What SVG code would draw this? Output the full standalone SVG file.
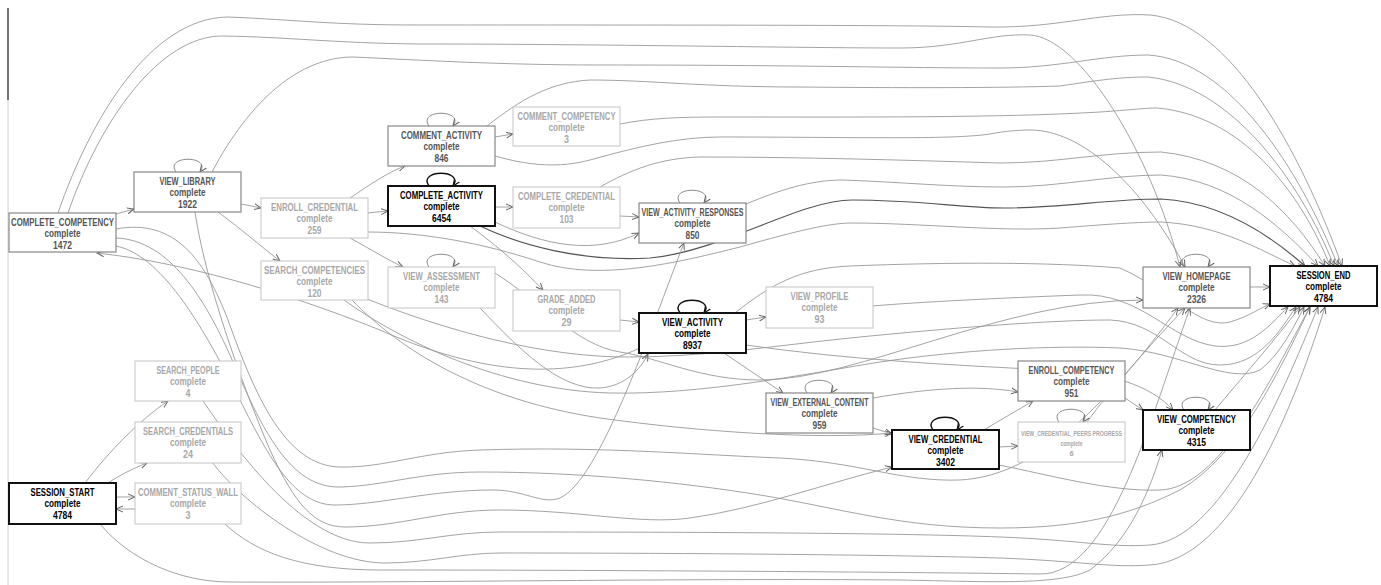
<svg xmlns="http://www.w3.org/2000/svg" width="1381" height="585" viewBox="0 0 1381 585">
<style>
text{font-family:"Liberation Sans",Arial,sans-serif;font-weight:bold;text-anchor:middle}
.t{font-size:11.5px}
.c{font-size:11px}
.strong rect{fill:#fff;stroke:#111;stroke-width:2}
.strong text{fill:#000}
.mid rect{fill:#fff;stroke:#888;stroke-width:1.2}
.mid text{fill:#555}
.light rect{fill:#fff;stroke:#c4c4c4;stroke-width:1}
.light text{fill:#a8a8a8}
.ea{fill:none;stroke:#999;stroke-width:0.9;marker-end:url(#ah)}
.ed{fill:none;stroke:#555;stroke-width:1.2;marker-end:url(#ah)}
.lp{fill:none;stroke:#888;stroke-width:1;marker-end:url(#ah)}
.lpd{fill:none;stroke:#111;stroke-width:1.4;marker-end:url(#ahd)}
</style>
<defs>
<marker id="ah" viewBox="0 0 8 8" refX="7" refY="4" markerWidth="8" markerHeight="8" markerUnits="userSpaceOnUse" orient="auto"><path d="M0,1 L7,4 L0,7" fill="none" stroke="#666" stroke-width="1"/></marker>
<marker id="ahd" viewBox="0 0 8 8" refX="7" refY="4" markerWidth="8" markerHeight="8" markerUnits="userSpaceOnUse" orient="auto"><path d="M0,1 L7,4 L0,7" fill="none" stroke="#111" stroke-width="1.2"/></marker>
</defs>
<rect x="0" y="0" width="1381" height="585" fill="#fff"/>
<line x1="8" y1="100" x2="8" y2="585" stroke="#d0d0d0" stroke-width="1"/>
<line x1="8" y1="8" x2="8" y2="100" stroke="#444" stroke-width="1.5"/>
<g id="connectors">
<path class="ea" d="M 58 213 C 90 120, 150 18, 228 17 C 300 20, 330 25, 420 25 C 700 25, 900 25, 990 27 C 1060 28, 1100 12, 1150 15 C 1230 22, 1300 150, 1342 266"/>
<path class="ea" d="M 68 213 C 100 120, 160 36, 222 36 C 290 37, 330 43, 420 44 C 600 44, 800 48, 900 48 C 960 48, 990 33, 1030 35 C 1080 38, 1150 150, 1180 267"/>
<path class="ea" d="M 212 172 C 250 100, 300 57, 353 57 C 420 60, 500 65, 600 65 C 800 65, 900 68, 1000 68 C 1060 68, 1100 55, 1148 55 C 1230 60, 1300 170, 1338 266"/>
<path class="ea" d="M 487 126 C 520 100, 550 82, 590 80 C 650 80, 700 87, 800 87 C 900 88, 1000 88, 1060 86 C 1100 80, 1120 77, 1148 77 C 1230 85, 1300 180, 1334 266"/>
<path class="ea" d="M 620 124 C 650 118, 680 117, 720 117 C 850 117, 1000 118, 1100 112 C 1130 110, 1145 108, 1157 108 C 1240 115, 1300 190, 1330 266"/>
<path class="ea" d="M 495 156 C 530 166, 560 168, 590 160 C 640 146, 680 137, 720 137 C 850 137, 950 140, 990 134 C 1005 131, 1020 130, 1030 130 C 1090 130, 1150 200, 1185 267"/>
<path class="ea" d="M 600 187 C 630 170, 660 158, 700 157 C 800 157, 900 160, 1000 163 C 1060 163, 1100 152, 1161 152 C 1240 160, 1290 210, 1325 266"/>
<path class="ea" d="M 746 204 C 780 190, 810 180, 843 180 C 900 182, 950 187, 1004 187 C 1060 187, 1110 175, 1161 175 C 1230 180, 1280 225, 1318 266"/>
<path class="ed" d="M 480 226 C 520 245, 580 262, 650 258 C 720 252, 800 200, 852 200 C 920 200, 960 208, 1004 208 C 1060 208, 1110 199, 1161 199 C 1220 202, 1270 235, 1305 266"/>
<path class="ea" d="M 367 232 C 420 232, 480 242, 540 262 C 600 282, 680 262, 740 247 C 800 230, 830 223, 852 223 C 920 223, 1000 232, 1060 228 C 1110 224, 1140 222, 1161 222 C 1220 225, 1260 250, 1295 266"/>
<path class="ea" d="M 735 313 C 770 285, 800 268, 850 266 C 950 262, 1050 262, 1120 268 C 1170 290, 1200 330, 1230 322 C 1250 316, 1260 308, 1270 304"/>
<path class="ea" d="M 872 306 C 920 302, 1000 298, 1080 295 C 1140 292, 1170 340, 1215 346 C 1250 350, 1270 325, 1288 307"/>
<path class="ea" d="M 367 299 C 420 320, 520 355, 620 357 C 700 358, 780 345, 850 338 C 950 328, 1050 320, 1110 320 C 1160 322, 1180 365, 1220 365 C 1260 365, 1280 330, 1296 307"/>
<path class="ea" d="M 344 300 C 400 340, 500 390, 610 393 C 700 395, 800 375, 880 362 C 960 350, 1050 345, 1120 348 C 1180 352, 1230 385, 1260 370 C 1280 355, 1295 325, 1304 307"/>
<path class="ea" d="M 352 300 C 400 350, 480 400, 600 418 C 700 432, 820 440, 892 433"/>
<path class="ea" d="M 480 308 C 520 350, 560 390, 600 388 C 625 386, 640 370, 648 354"/>
<path class="ea" d="M 490 270 C 540 300, 575 345, 620 352 C 660 358, 700 380, 760 380 C 860 380, 1000 300, 1143 300"/>
<path class="ea" d="M 746 345 C 850 360, 950 365, 1050 370 C 1110 372, 1150 385, 1173 410"/>
<path class="ea" d="M 640 348 C 560 385, 470 370, 380 330 C 280 290, 180 262, 97 253"/>
<path class="ea" d="M 999 465 C 1050 475, 1110 492, 1160 490 C 1220 488, 1270 380, 1310 307"/>
<path class="ea" d="M 116 229 C 175 218, 205 260, 228 320 C 255 395, 285 466, 340 467 C 385 468, 420 452, 480 450 C 600 446, 700 455, 780 458 C 860 462, 900 482, 960 480 C 1040 476, 1110 400, 1178 308"/>
<path class="ea" d="M 116 238 C 170 240, 205 300, 230 355 C 262 430, 290 488, 340 487 C 385 486, 420 472, 480 472 C 580 472, 680 482, 760 495 C 840 508, 900 528, 1000 528 C 1080 528, 1130 515, 1180 490 C 1240 455, 1280 370, 1310 307"/>
<path class="ea" d="M 116 246 C 160 255, 200 320, 240 400 C 270 460, 295 505, 335 505 C 380 505, 430 490, 493 490 C 525 490, 542 505, 560 498 C 600 480, 650 330, 684 243"/>
<path class="ea" d="M 195 212 C 205 280, 240 380, 270 450 C 295 505, 315 527, 345 527 C 400 527, 440 510, 500 510 C 580 510, 640 525, 690 518 C 760 508, 820 485, 892 467"/>
<path class="ea" d="M 203 401 C 230 440, 300 543, 370 543 C 420 543, 450 532, 500 532 C 700 532, 900 533, 1000 537 C 1080 540, 1110 548, 1150 545 C 1220 540, 1280 400, 1318 307"/>
<path class="ea" d="M 212 462 C 240 500, 320 563, 385 563 C 430 563, 460 553, 500 553 C 700 553, 900 555, 1000 558 C 1080 561, 1110 568, 1150 565 C 1230 560, 1290 420, 1325 307"/>
<path class="ea" d="M 100 524 C 130 560, 180 582, 230 582 C 400 583, 700 578, 900 580 C 1000 582, 1060 585, 1090 570 C 1130 540, 1150 490, 1162 450"/>
<path class="ea" d="M 225 524 C 255 552, 300 570, 380 570 C 600 570, 900 572, 1040 574 C 1110 575, 1150 420, 1190 308"/>
<path class="ea" d="M 116 214 L 134 209"/>
<path class="ea" d="M 241 204 L 261 208"/>
<path class="ea" d="M 218 212 C 240 228, 258 244, 280 261"/>
<path class="ea" d="M 350 198 C 368 186, 388 172, 405 166"/>
<path class="ea" d="M 367 213 L 388 211"/>
<path class="ea" d="M 350 238 C 372 250, 388 260, 403 267"/>
<path class="ea" d="M 495 137 L 513 134"/>
<path class="ea" d="M 495 207 L 513 207"/>
<path class="ea" d="M 620 216 L 639 217"/>
<path class="ea" d="M 495 222 C 545 246, 595 255, 639 233"/>
<path class="ea" d="M 470 226 C 500 248, 522 268, 543 290"/>
<path class="ea" d="M 620 320 L 639 322"/>
<path class="ea" d="M 746 320 L 766 317"/>
<path class="ea" d="M 724 353 L 783 393"/>
<path class="ea" d="M 873 428 L 892 434"/>
<path class="ea" d="M 984 430 C 1000 420, 1018 410, 1033 401"/>
<path class="ea" d="M 999 447 L 1018 446"/>
<path class="ea" d="M 873 398 C 930 388, 980 385, 1018 392"/>
<path class="ea" d="M 1125 398 L 1143 410"/>
<path class="ea" d="M 1250 287 L 1270 287"/>
<path class="ea" d="M 85 483 C 110 450, 140 420, 168 401"/>
<path class="ea" d="M 108 483 C 120 475, 132 469, 147 463"/>
<path class="ea" d="M 116 497 L 135 497"/>
<path class="ea" d="M 135 509 L 116 509"/>
<path class="ea" d="M 1087 422 C 1110 390, 1150 345, 1185 308"/>
<path class="ea" d="M 1215 410 C 1240 380, 1275 340, 1300 307"/>
<path class="lp" d="M 176 172 C 164 155, 212 155, 200 172"/>
<path class="lp" d="M 429 126 C 417 109, 465 109, 453 126"/>
<path class="lpd" d="M 429 186 C 417 169, 465 169, 453 186"/>
<path class="lp" d="M 429 267 C 417 250, 465 250, 453 267"/>
<path class="lp" d="M 680 203 C 668 186, 716 186, 704 203"/>
<path class="lpd" d="M 680 313 C 668 296, 716 296, 704 313"/>
<path class="lp" d="M 807 393 C 795 376, 843 376, 831 393"/>
<path class="lpd" d="M 933 430 C 921 413, 969 413, 957 430"/>
<path class="lp" d="M 1059 422 C 1047 405, 1095 405, 1083 422"/>
<path class="lp" d="M 1184 267 C 1172 250, 1220 250, 1208 267"/>
<path class="lp" d="M 1184 410 C 1172 393, 1220 393, 1208 410"/>
</g>
<g id="COMPLETE_COMPETENCY" class="mid"><rect x="9" y="213" width="107" height="39"/><text class="t" x="62.5" y="225.5" textLength="103" lengthAdjust="spacingAndGlyphs">COMPLETE_COMPETENCY</text><text class="c" x="62.5" y="237" textLength="36" lengthAdjust="spacingAndGlyphs">complete</text><text class="t" x="62.5" y="249" textLength="19" lengthAdjust="spacingAndGlyphs">1472</text></g>
<g id="VIEW_LIBRARY" class="mid"><rect x="134" y="172" width="107" height="40"/><text class="t" x="187.5" y="184.5" textLength="56" lengthAdjust="spacingAndGlyphs">VIEW_LIBRARY</text><text class="c" x="187.5" y="196" textLength="36" lengthAdjust="spacingAndGlyphs">complete</text><text class="t" x="187.5" y="208" textLength="19" lengthAdjust="spacingAndGlyphs">1922</text></g>
<g id="ENROLL_CREDENTIAL" class="light"><rect x="261" y="198" width="107" height="40"/><text class="t" x="314.5" y="210.5" textLength="87" lengthAdjust="spacingAndGlyphs">ENROLL_CREDENTIAL</text><text class="c" x="314.5" y="222" textLength="36" lengthAdjust="spacingAndGlyphs">complete</text><text class="t" x="314.5" y="234" textLength="14" lengthAdjust="spacingAndGlyphs">259</text></g>
<g id="SEARCH_COMPETENCIES" class="light"><rect x="261" y="261" width="107" height="39"/><text class="t" x="314.5" y="273.5" textLength="101" lengthAdjust="spacingAndGlyphs">SEARCH_COMPETENCIES</text><text class="c" x="314.5" y="285" textLength="36" lengthAdjust="spacingAndGlyphs">complete</text><text class="t" x="314.5" y="297" textLength="14" lengthAdjust="spacingAndGlyphs">120</text></g>
<g id="COMMENT_ACTIVITY" class="mid"><rect x="388" y="126" width="107" height="40"/><text class="t" x="441.5" y="138.5" textLength="81" lengthAdjust="spacingAndGlyphs">COMMENT_ACTIVITY</text><text class="c" x="441.5" y="150" textLength="36" lengthAdjust="spacingAndGlyphs">complete</text><text class="t" x="441.5" y="162" textLength="14" lengthAdjust="spacingAndGlyphs">846</text></g>
<g id="COMPLETE_ACTIVITY" class="strong"><rect x="388" y="186" width="107" height="40"/><text class="t" x="441.5" y="198.5" textLength="83" lengthAdjust="spacingAndGlyphs">COMPLETE_ACTIVITY</text><text class="c" x="441.5" y="210" textLength="36" lengthAdjust="spacingAndGlyphs">complete</text><text class="t" x="441.5" y="222" textLength="19" lengthAdjust="spacingAndGlyphs">6454</text></g>
<g id="VIEW_ASSESSMENT" class="light"><rect x="388" y="267" width="107" height="41"/><text class="t" x="441.5" y="279.5" textLength="77" lengthAdjust="spacingAndGlyphs">VIEW_ASSESSMENT</text><text class="c" x="441.5" y="291" textLength="36" lengthAdjust="spacingAndGlyphs">complete</text><text class="t" x="441.5" y="303" textLength="14" lengthAdjust="spacingAndGlyphs">143</text></g>
<g id="COMMENT_COMPETENCY" class="light"><rect x="513" y="107" width="107" height="39"/><text class="t" x="566.5" y="119.5" textLength="98" lengthAdjust="spacingAndGlyphs">COMMENT_COMPETENCY</text><text class="c" x="566.5" y="131" textLength="36" lengthAdjust="spacingAndGlyphs">complete</text><text class="t" x="566.5" y="143" textLength="5" lengthAdjust="spacingAndGlyphs">3</text></g>
<g id="COMPLETE_CREDENTIAL" class="light"><rect x="513" y="187" width="107" height="41"/><text class="t" x="566.5" y="199.5" textLength="97" lengthAdjust="spacingAndGlyphs">COMPLETE_CREDENTIAL</text><text class="c" x="566.5" y="211" textLength="36" lengthAdjust="spacingAndGlyphs">complete</text><text class="t" x="566.5" y="223" textLength="14" lengthAdjust="spacingAndGlyphs">103</text></g>
<g id="VIEW_ACTIVITY_RESPONSES" class="mid"><rect x="639" y="203" width="107" height="40"/><text class="t" x="692.5" y="215.5" textLength="102" lengthAdjust="spacingAndGlyphs">VIEW_ACTIVITY_RESPONSES</text><text class="c" x="692.5" y="227" textLength="36" lengthAdjust="spacingAndGlyphs">complete</text><text class="t" x="692.5" y="239" textLength="14" lengthAdjust="spacingAndGlyphs">850</text></g>
<g id="GRADE_ADDED" class="light"><rect x="513" y="290" width="107" height="41"/><text class="t" x="566.5" y="302.5" textLength="58" lengthAdjust="spacingAndGlyphs">GRADE_ADDED</text><text class="c" x="566.5" y="314" textLength="36" lengthAdjust="spacingAndGlyphs">complete</text><text class="t" x="566.5" y="326" textLength="10" lengthAdjust="spacingAndGlyphs">29</text></g>
<g id="VIEW_ACTIVITY" class="strong"><rect x="639" y="313" width="107" height="40"/><text class="t" x="692.5" y="325.5" textLength="61" lengthAdjust="spacingAndGlyphs">VIEW_ACTIVITY</text><text class="c" x="692.5" y="337" textLength="36" lengthAdjust="spacingAndGlyphs">complete</text><text class="t" x="692.5" y="349" textLength="19" lengthAdjust="spacingAndGlyphs">8937</text></g>
<g id="VIEW_PROFILE" class="light"><rect x="766" y="287" width="107" height="41"/><text class="t" x="819.5" y="299.5" textLength="58" lengthAdjust="spacingAndGlyphs">VIEW_PROFILE</text><text class="c" x="819.5" y="311" textLength="36" lengthAdjust="spacingAndGlyphs">complete</text><text class="t" x="819.5" y="323" textLength="10" lengthAdjust="spacingAndGlyphs">93</text></g>
<g id="VIEW_EXTERNAL_CONTENT" class="mid"><rect x="766" y="393" width="107" height="40"/><text class="t" x="819.5" y="405.5" textLength="98" lengthAdjust="spacingAndGlyphs">VIEW_EXTERNAL_CONTENT</text><text class="c" x="819.5" y="417" textLength="36" lengthAdjust="spacingAndGlyphs">complete</text><text class="t" x="819.5" y="429" textLength="14" lengthAdjust="spacingAndGlyphs">959</text></g>
<g id="VIEW_CREDENTIAL" class="strong"><rect x="892" y="430" width="107" height="39"/><text class="t" x="945.5" y="442.5" textLength="74" lengthAdjust="spacingAndGlyphs">VIEW_CREDENTIAL</text><text class="c" x="945.5" y="454" textLength="36" lengthAdjust="spacingAndGlyphs">complete</text><text class="t" x="945.5" y="466" textLength="19" lengthAdjust="spacingAndGlyphs">3402</text></g>
<g id="ENROLL_COMPETENCY" class="mid"><rect x="1018" y="361" width="107" height="40"/><text class="t" x="1071.5" y="373.5" textLength="86" lengthAdjust="spacingAndGlyphs">ENROLL_COMPETENCY</text><text class="c" x="1071.5" y="385" textLength="36" lengthAdjust="spacingAndGlyphs">complete</text><text class="t" x="1071.5" y="397" textLength="14" lengthAdjust="spacingAndGlyphs">951</text></g>
<g id="VIEW_CREDENTIAL_PEERS_PROGRESS" class="light"><rect x="1018" y="422" width="107" height="40"/><text x="1071.5" y="436" font-size="7" textLength="101" lengthAdjust="spacingAndGlyphs">VIEW_CREDENTIAL_PEERS PROGRESS</text><text x="1071.5" y="446" font-size="7" textLength="22" lengthAdjust="spacingAndGlyphs">complete</text><text x="1071.5" y="456" font-size="7.5">6</text></g>
<g id="VIEW_HOMEPAGE" class="mid"><rect x="1143" y="267" width="107" height="41"/><text class="t" x="1196.5" y="279.5" textLength="68" lengthAdjust="spacingAndGlyphs">VIEW_HOMEPAGE</text><text class="c" x="1196.5" y="291" textLength="36" lengthAdjust="spacingAndGlyphs">complete</text><text class="t" x="1196.5" y="303" textLength="19" lengthAdjust="spacingAndGlyphs">2326</text></g>
<g id="SESSION_END" class="strong"><rect x="1270" y="266" width="107" height="40"/><text class="t" x="1323.5" y="278.5" textLength="54" lengthAdjust="spacingAndGlyphs">SESSION_END</text><text class="c" x="1323.5" y="290" textLength="36" lengthAdjust="spacingAndGlyphs">complete</text><text class="t" x="1323.5" y="302" textLength="19" lengthAdjust="spacingAndGlyphs">4784</text></g>
<g id="VIEW_COMPETENCY" class="strong"><rect x="1143" y="410" width="107" height="40"/><text class="t" x="1196.5" y="422.5" textLength="79" lengthAdjust="spacingAndGlyphs">VIEW_COMPETENCY</text><text class="c" x="1196.5" y="434" textLength="36" lengthAdjust="spacingAndGlyphs">complete</text><text class="t" x="1196.5" y="446" textLength="19" lengthAdjust="spacingAndGlyphs">4315</text></g>
<g id="SEARCH_PEOPLE" class="light"><rect x="135" y="361" width="106" height="40"/><text class="t" x="188" y="373.5" textLength="63" lengthAdjust="spacingAndGlyphs">SEARCH_PEOPLE</text><text class="c" x="188" y="385" textLength="36" lengthAdjust="spacingAndGlyphs">complete</text><text class="t" x="188" y="397" textLength="5" lengthAdjust="spacingAndGlyphs">4</text></g>
<g id="SEARCH_CREDENTIALS" class="light"><rect x="135" y="422" width="106" height="41"/><text class="t" x="188" y="434.5" textLength="90" lengthAdjust="spacingAndGlyphs">SEARCH_CREDENTIALS</text><text class="c" x="188" y="446" textLength="36" lengthAdjust="spacingAndGlyphs">complete</text><text class="t" x="188" y="458" textLength="10" lengthAdjust="spacingAndGlyphs">24</text></g>
<g id="COMMENT_STATUS_WALL" class="light"><rect x="135" y="483" width="106" height="41"/><text class="t" x="188" y="495.5" textLength="100" lengthAdjust="spacingAndGlyphs">COMMENT_STATUS_WALL</text><text class="c" x="188" y="507" textLength="36" lengthAdjust="spacingAndGlyphs">complete</text><text class="t" x="188" y="519" textLength="5" lengthAdjust="spacingAndGlyphs">3</text></g>
<g id="SESSION_START" class="strong"><rect x="9" y="483" width="107" height="41"/><text class="t" x="62.5" y="495.5" textLength="64" lengthAdjust="spacingAndGlyphs">SESSION_START</text><text class="c" x="62.5" y="507" textLength="36" lengthAdjust="spacingAndGlyphs">complete</text><text class="t" x="62.5" y="519" textLength="19" lengthAdjust="spacingAndGlyphs">4784</text></g>
</svg>
